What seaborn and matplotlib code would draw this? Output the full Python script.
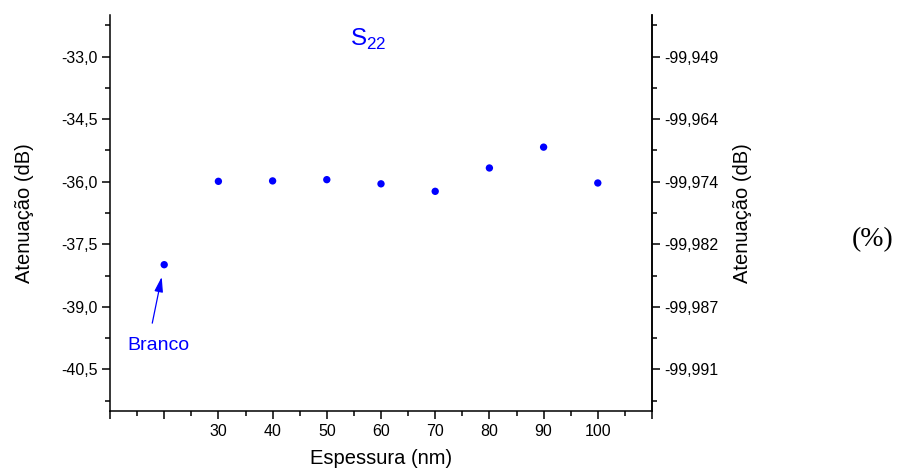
import matplotlib
matplotlib.use("Agg")
import matplotlib.pyplot as plt
from matplotlib.ticker import FixedLocator, FuncFormatter
import numpy as np
import pandas as pd
import seaborn as sns

# Thickness of the deposited film (nm) and the measured S22 attenuation (dB)
espessura = [20, 30, 40, 50, 60, 70, 80, 90, 100]
atenuacao = [-37.99, -35.99, -35.98, -35.95, -36.05, -36.23, -35.67, -35.17, -36.03]

# Left axis ticks (dB) and the matching labels of the right axis
ticks_db = [-33.0, -34.5, -36.0, -37.5, -39.0, -40.5]
ticks_direita = ["-99,949", "-99,964", "-99,974", "-99,982", "-99,987", "-99,991"]
ticks_x = [10, 20, 30, 40, 50, 60, 70, 80, 90, 100, 110]
rotulos_x = ["", "", "30", "40", "50", "60", "70", "80", "90", "100", ""]

sns.set_style("ticks")
plt.rcParams["font.family"] = ["Liberation Sans", "DejaVu Sans"]
plt.rcParams["mathtext.fontset"] = "custom"
plt.rcParams["mathtext.rm"] = "Liberation Sans"
plt.rcParams["text.color"] = "black"

W, H = 898, 472
fig = plt.figure(figsize=(W / 100, H / 100), dpi=100)
ax = fig.add_axes([110 / W, 1 - 411 / H, 542 / W, 396 / H])

df = pd.DataFrame({"Espessura": espessura, "Atenuacao": atenuacao})
sns.scatterplot(data=df, x="Espessura", y="Atenuacao", ax=ax,
                color="#0000FF", s=28, edgecolor="none", zorder=3)

ax.set_xlim(10, 110)
ax.set_ylim(-41.5, -32.0)
ax.set_xlabel("")
ax.set_ylabel("")

ax.xaxis.set_major_locator(FixedLocator(ticks_x))
ax.set_xticklabels(rotulos_x)
ax.xaxis.set_minor_locator(FixedLocator(np.arange(15, 110, 10)))
ax.yaxis.set_major_locator(FixedLocator(ticks_db))
ax.yaxis.set_minor_locator(FixedLocator(np.arange(-41.25, -32.0, 1.5)))
ax.yaxis.set_major_formatter(FuncFormatter(lambda v, p: f"{v:.1f}".replace(".", ",")))

for spine in ["left", "bottom", "right"]:
    ax.spines[spine].set_linewidth(1.1)
    ax.spines[spine].set_color("black")
ax.spines["top"].set_visible(False)

ax.tick_params(axis="both", which="major", direction="out", length=6, width=1.1,
               labelsize=11.5, colors="black", pad=3)
ax.tick_params(axis="both", which="minor", direction="out", length=3.6, width=1.1,
               colors="black")

ax2 = ax.twinx()
ax2.set_ylim(ax.get_ylim())
ax2.yaxis.set_major_locator(FixedLocator(ticks_db))
ax2.set_yticklabels(ticks_direita)
ax2.yaxis.set_minor_locator(FixedLocator(np.arange(-41.25, -32.0, 1.5)))
for spine in ["left", "bottom", "top"]:
    ax2.spines[spine].set_visible(False)
ax2.spines["right"].set_linewidth(1.1)
ax2.spines["right"].set_color("black")
ax2.tick_params(axis="y", which="major", direction="out", length=6, width=1.1,
                labelsize=11.5, colors="black", pad=3)
ax2.tick_params(axis="y", which="minor", direction="out", length=3.6, width=1.1,
                colors="black")

# Axis titles
fig.text(381 / W, 1 - 458 / H, "Espessura (nm)", ha="center", va="center",
         fontsize=14.5, color="black")
fig.text(25 / W, 1 - 213 / H, "Atenuação (dB)", ha="center", va="center",
         rotation=90, fontsize=14.5, color="black")
fig.text(742 / W, 1 - 213 / H, "Atenuação (dB)", ha="center", va="center",
         rotation=90, fontsize=14.5, color="black")
fig.text(873 / W, 1 - 240 / H, "(%)", ha="center", va="center", fontsize=20,
         color="black", family=["Liberation Serif", "DejaVu Serif"])

# Parameter name
fig.text(350 / W, 1 - 46 / H, r"S$_\mathregular{22}$", ha="left", va="baseline",
         fontsize=17.5, color="#0000FF")

# Reference sample
ax.annotate("", xy=(espessura[0], atenuacao[0]), xytext=(-8.6, -42.1),
            textcoords="offset points",
            arrowprops=dict(arrowstyle="-|>,head_length=0.45,head_width=0.13",
                            mutation_scale=20, color="#0000FF", lw=0.9,
                            shrinkA=0, shrinkB=9))
fig.text(127 / W, 1 - 350 / H, "Branco", ha="left", va="baseline",
         fontsize=14, color="#0000FF")

fig.savefig("out.png", dpi=100)
